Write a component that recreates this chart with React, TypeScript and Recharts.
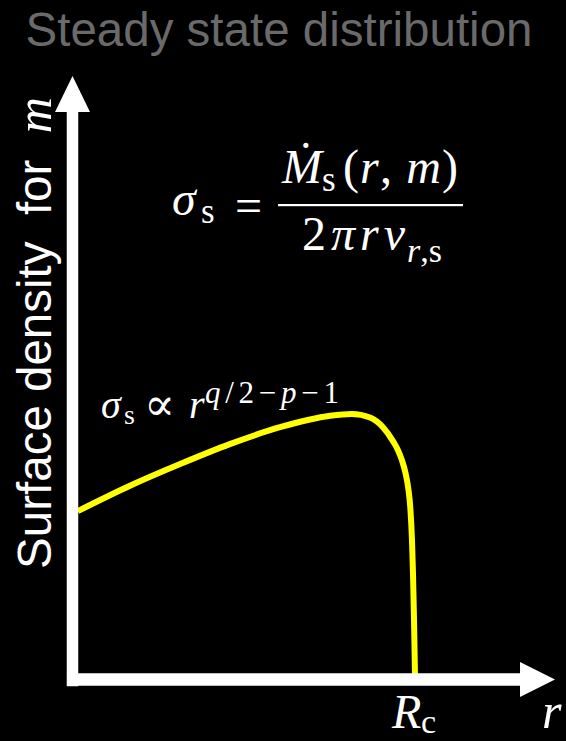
import React from 'react';
import {
  LineChart,
  Line,
  XAxis,
  YAxis,
  ReferenceLine,
  ReferenceDot,
} from 'recharts';

// radius (arbitrary units, 0..100 across the r axis)
const radius = [
  1.1, 11.9, 22.3, 32.6, 43.0, 53.4, 57.9, 61.66, 64.35, 66.42, 67.46, 68.29,
  69.02, 69.64, 70.01, 70.36, 70.57, 70.78, 70.98,
];
// steady state surface density (arbitrary units, 0..100 up the axis)
const density = [
  27.9, 32.1, 35.7, 39.0, 41.8, 43.7, 44.0, 43.4, 41.8, 39.5, 38.0, 36.3,
  34.2, 31.4, 28.5, 23.1, 17.6, 9.9, 0.9,
];

const data = radius.map((r, i) => ({ r, sigma: density[i] }));

const W = 566;
const H = 741;

const SANS = '"Liberation Sans", Arial, sans-serif';
const SERIF = '"Liberation Serif", "DejaVu Serif", serif';

const UpArrow = (props: any) => {
  const { cx, cy } = props;
  return <polygon points={`${cx},${cy} ${cx - 17.5},${cy + 36} ${cx + 17.5},${cy + 36}`} fill="#fff" />;
};

const RightArrow = (props: any) => {
  const { cx, cy } = props;
  return <polygon points={`${cx},${cy} ${cx - 35},${cy - 17.5} ${cx - 35},${cy + 17.5}`} fill="#fff" />;
};

// small math snippets, one text node per glyph run
const MathText = ({ x, y, size, italic = true, children, len }: any) => (
  <text
    x={x}
    y={y}
    fontSize={size}
    fontFamily={SERIF}
    fontStyle={italic ? 'italic' : 'normal'}
    fill="#fff"
    textLength={len}
    lengthAdjust={len ? 'spacing' : undefined}
  >
    {children}
  </text>
);

const Labels = () => (
  <g>
    <text x={279} y={46} textAnchor="middle" fontSize={47.5} fontFamily={SANS} fill="#6a6a6a">
      Steady state distribution
    </text>

    <text
      transform="translate(51, 333) rotate(-90)"
      textAnchor="middle"
      fontSize={47.5}
      fontFamily={SANS}
      fill="#fff"
    >
      Surface density{'\u00a0 '}for{'\u00a0 '}
      <tspan fontFamily={SERIF} fontStyle="italic" fontSize={50}>m</tspan>
    </text>

    {/* sigma_s = Mdot_s(r, m) / (2 pi r v_{r,s}) */}
    <MathText x={172} y={215} size={48}>σ</MathText>
    <MathText x={201} y={223} size={35} italic={false}>s</MathText>
    <MathText x={235} y={222} size={48} italic={false}>=</MathText>
    <rect x={278} y={204} width={185} height={2.2} fill="#fff" />
    <MathText x={282} y={183} size={48}>Ṁ</MathText>
    <MathText x={322} y={191} size={35} italic={false}>s</MathText>
    <MathText x={343} y={183} size={48} italic={false} len={115}>
      (<tspan fontStyle="italic">r</tspan>,{'\u00a0'}<tspan fontStyle="italic">m</tspan>)
    </MathText>
    <MathText x={302} y={250} size={48}>
      <tspan fontStyle="normal" letterSpacing={5}>2</tspan>
      <tspan letterSpacing={5}>πr</tspan>
      <tspan>v</tspan>
      <tspan dy={12} fontSize={34} dx={2}>r</tspan>
      <tspan fontSize={34} fontStyle="normal">,s</tspan>
    </MathText>

    {/* sigma_s ∝ r^(q/2-p-1) */}
    <MathText x={101} y={418} size={40}>σ</MathText>
    <MathText x={124} y={424} size={28} italic={false}>s</MathText>
    <MathText x={144} y={420} size={46} italic={false}>∝</MathText>
    <MathText x={189} y={418} size={40}>r</MathText>
    <MathText x={205} y={403} size={31} len={134}>
      q<tspan fontStyle="normal">/2−</tspan>p<tspan fontStyle="normal">−1</tspan>
    </MathText>

    <MathText x={392} y={728} size={48}>R</MathText>
    <MathText x={421} y={733} size={34} italic={false}>c</MathText>
    <MathText x={542} y={728} size={50}>r</MathText>
  </g>
);

export default function App() {
  return (
    <div style={{ position: 'absolute', left: 0, top: 0, width: W, height: H, background: '#000' }}>
      <LineChart
        width={W}
        height={H}
        data={data}
        margin={{ top: 76, left: 72.5, right: 11, bottom: 61.5 }}
      >
        <XAxis dataKey="r" type="number" domain={[0, 100]} allowDataOverflow hide />
        <YAxis type="number" domain={[0, 100]} allowDataOverflow hide />

        <Line
          type="monotone"
          dataKey="sigma"
          stroke="#ffff00"
          strokeWidth={6}
          dot={false}
          activeDot={false}
          isAnimationActive={false}
        />

        {/* axes drawn as thick white arrows */}
        <ReferenceLine
          segment={[{ x: 0, y: -1.1 }, { x: 0, y: 94.5 }]}
          stroke="#fff"
          strokeWidth={11.5}
          ifOverflow="visible"
        />
        <ReferenceLine
          segment={[{ x: -1.15, y: 0 }, { x: 93, y: 0 }]}
          stroke="#fff"
          strokeWidth={12.5}
          ifOverflow="visible"
        />
        <ReferenceDot x={0} y={100} r={1} ifOverflow="visible" shape={UpArrow} />
        <ReferenceDot x={100} y={0} r={1} ifOverflow="visible" shape={RightArrow} />

        <Labels />
      </LineChart>
    </div>
  );
}
